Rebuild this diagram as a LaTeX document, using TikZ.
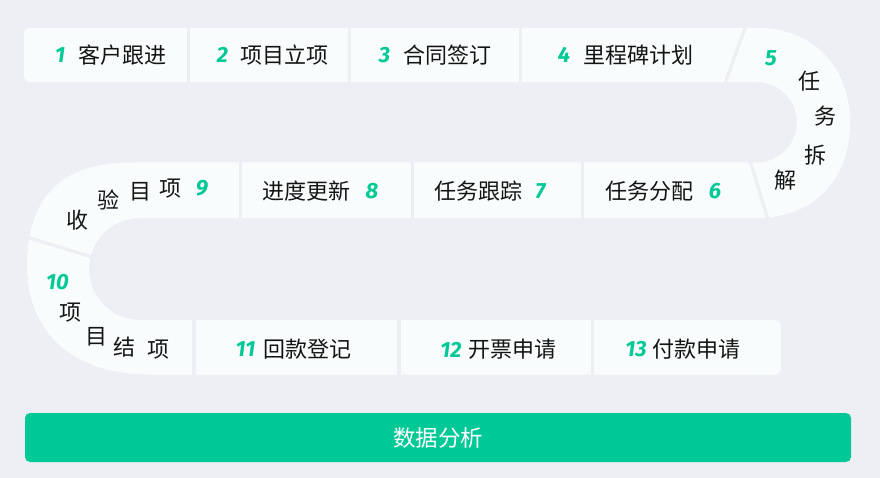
\documentclass[tikz,border=0pt]{standalone}
\usepackage{fontspec}
\newfontfamily\cjk{Noto Sans CJK SC}
\newfontfamily\numf{Fira Sans}
\definecolor{bg}{RGB}{238,239,244}
\definecolor{tilec}{RGB}{249,252,252}
\definecolor{brand}{RGB}{0,200,150}
\definecolor{ink}{RGB}{20,20,20}
\tikzset{
  lbl/.style={font=\cjk\fontsize{22}{22}\selectfont, text=ink, inner sep=0pt},
  num/.style={font=\numf\bfseries\itshape\fontsize{22}{22}\selectfont, text=brand, inner sep=0pt},
  gap/.style={draw=bg, line width=3.2pt},
  tile/.style={fill=tilec},
  barbox/.style={fill=brand, rounded corners=5pt, minimum width=826pt, minimum height=49pt, inner sep=0pt,
    font=\cjk\fontsize{22.5}{22.5}\selectfont, text=white},
}
\begin{document}
\begin{tikzpicture}[x=1pt,y=-1pt]
\fill[bg] (0,0) rectangle (880,478);
\useasboundingbox (0,0) rectangle (880,478);

% snake body
\fill[tile] (40,28) -- (757,28)
  .. controls (812.8,28) and (850,66) .. (850,123)
  .. controls (850,180) and (812.8,218) .. (757,218)
  -- (140,218)
  .. controls (111.8,218) and (89,240.8) .. (89,269)
  .. controls (89,297.2) and (111.8,320) .. (140,320)
  -- (760,320) -- (760,374.5) -- (150,374.5)
  .. controls (70,374.5) and (27,330) .. (27,265)
  .. controls (27,200) and (60,162.5) .. (130,162.5)
  -- (757,162.5)
  .. controls (779.1,162.5) and (797,144.1) .. (797,122)
  .. controls (797,99.9) and (779.1,82) .. (757,82)
  -- (40,82) -- cycle;
\fill[tile, rounded corners=6pt] (24,28) rectangle (60,82);
\fill[tile, rounded corners=6pt] (740,320) rectangle (781,374.5);

% gaps between tiles
\draw[gap] (188.5,20) -- (188.5,90);
\draw[gap] (349.5,20) -- (349.5,90);
\draw[gap] (520.5,20) -- (520.5,90);
\draw[gap] (747.2,22) -- (723.3,88);
\draw[gap] (748.7,156) -- (769.3,224);
\draw[gap] (240.8,156) -- (240.8,224);
\draw[gap] (412.5,156) -- (412.5,224);
\draw[gap] (582.4,156) -- (582.4,224);
\draw[gap] (20,235) -- (100,259.5);
\draw[gap] (194,314) -- (194,380);
\draw[gap] (399,314) -- (399,380);
\draw[gap] (592.2,314) -- (592.2,380);

% top row
\node[num] (n1) at (60,55) {1};
\node[lbl] (t1) at (122,55) {客户跟进};
\node[num] (n2) at (222.5,55) {2};
\node[lbl] (t2) at (284,55) {项目立项};
\node[num] (n3) at (384.5,55) {3};
\node[lbl] (t3) at (447,55) {合同签订};
\node[num] (n4) at (564,55) {4};
\node[lbl] (t4) at (638,55) {里程碑计划};

% right turn
\node[num] (n5) at (771,58) {5};
\node[lbl] (c5a) at (809,81) {任};
\node[lbl] (c5b) at (825.5,116.5) {务};
\node[lbl] (c5c) at (815.5,155.5) {拆};
\node[lbl] (c5d) at (785,180.5) {解};

% middle row
\node[lbl] (t6) at (649.5,191.5) {任务分配};
\node[num] (n6) at (715,191.5) {6};
\node[lbl] (t7) at (478.5,191.5) {任务跟踪};
\node[num] (n7) at (540.5,191.5) {7};
\node[lbl] (t8) at (306.5,191.5) {进度更新};
\node[num] (n8) at (372,191.5) {8};

% left turn
\node[num] (n9) at (202,188.5) {9};
\node[lbl] (c9a) at (170,188.5) {项};
\node[lbl] (c9b) at (140,192) {目};
\node[lbl] (c9c) at (108,200) {验};
\node[lbl] (c9d) at (77,220) {收};
\node[num] (n10) at (57.5,282) {10};
\node[lbl] (c10a) at (70,313) {项};
\node[lbl] (c10b) at (96,337) {目};
\node[lbl] (c10c) at (124,347.5) {结};
\node[lbl] (c10d) at (158,349.5) {项};

% bottom row
\node[num] (n11) at (245.5,349.5) {11};
\node[lbl] (t11) at (307.5,349.5) {回款登记};
\node[num] (n12) at (451,349.5) {12};
\node[lbl] (t12) at (512,349.5) {开票申请};
\node[num] (n13) at (636,349.5) {13};
\node[lbl] (t13) at (696.5,349.5) {付款申请};

% bar
\node[barbox] (bar) at (438,437.5) {数据分析};
\end{tikzpicture}
\end{document}
